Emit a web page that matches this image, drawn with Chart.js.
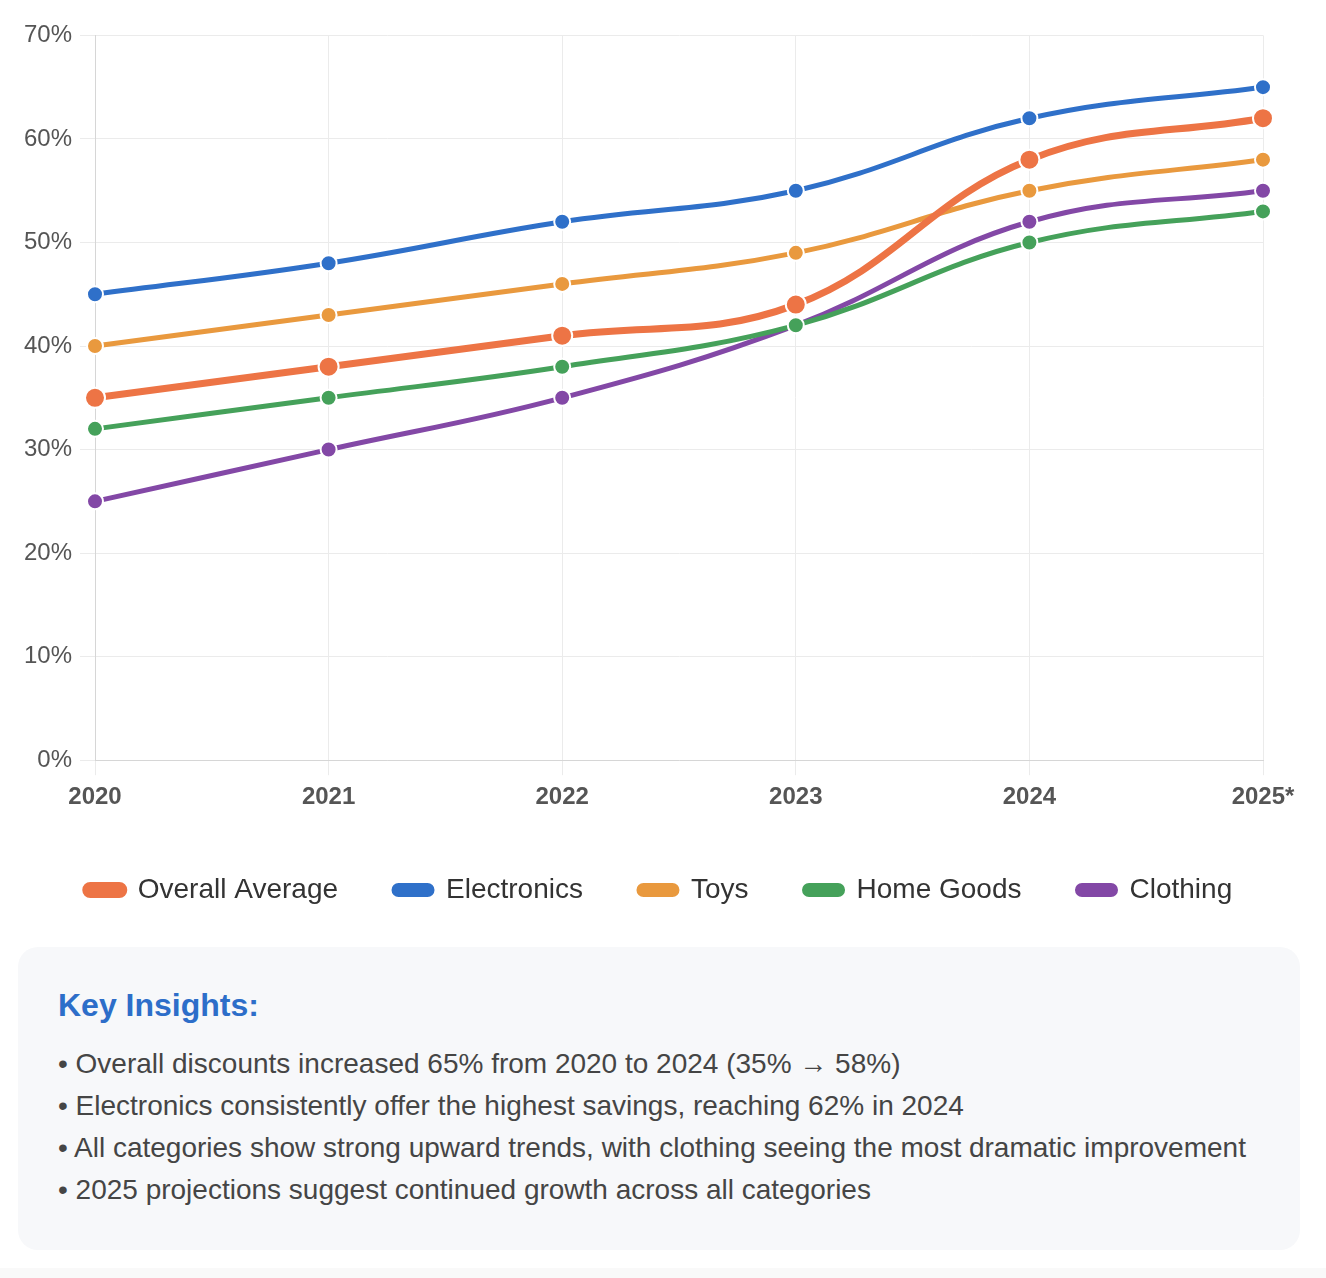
<!DOCTYPE html>
<html>
<head>
<meta charset="utf-8">
<script src="https://cdn.jsdelivr.net/npm/chart.js@4.4.1/dist/chart.umd.min.js"></script>
<style>
  html, body { margin: 0; padding: 0; }
  body { background: #f9f9f9; font-family: "Liberation Sans", Arial, Helvetica, sans-serif; }
  .card { background: #fff; width: 1326px; padding: 13px 0 18px 0; box-sizing: border-box; }
  .chart-wrap { position: relative; height: 901px; margin: 0 26px 0 18px; }
  .insights { margin: 33px 26px 0 18px; background: #f7f8fa; border-radius: 20px; padding: 39px 40px 39px 40px; }
  .insights h3 { margin: 0 0 19px 0; font-size: 32px; line-height: 38px; font-weight: bold; color: #2d6ec9; }
  .insights p { margin: 0; font-size: 28px; line-height: 42px; color: #454545; }
</style>
</head>
<body>
<div class="card">
  <div class="chart-wrap"><canvas id="discountChart"></canvas></div>
  <div class="insights">
    <h3>Key Insights:</h3>
    <p>• Overall discounts increased 65% from 2020 to 2024 (35% → 58%)</p>
    <p>• Electronics consistently offer the highest savings, reaching 62% in 2024</p>
    <p>• All categories show strong upward trends, with clothing seeing the most dramatic improvement</p>
    <p>• 2025 projections suggest continued growth across all categories</p>
  </div>
</div>

<script>
//======================================
// Data
//======================================

const years = ["2020", "2021", "2022", "2023", "2024", "2025*"];

const overallAverage = [35, 38, 41, 44, 58, 62];
const electronics    = [45, 48, 52, 55, 62, 65];
const toys           = [40, 43, 46, 49, 55, 58];
const homeGoods      = [32, 35, 38, 42, 50, 53];
const clothing       = [25, 30, 35, 42, 52, 55];

const yTicks = [0, 10, 20, 30, 40, 50, 60, 70];


//======================================
// Dataset helper
//======================================

function series(label, data, color, main){

    return {
        label: label,
        data: data,
        borderColor: color,
        backgroundColor: color,
        pointBackgroundColor: color,
        pointBorderColor: "#fff",
        pointBorderWidth: 2,
        pointRadius: main ? 10 : 8,
        pointHoverRadius: main ? 11 : 9,
        borderWidth: main ? 7 : 5,
        tension: 0.4,
        fill: false
    };

}


//======================================
// Chart
//======================================

const ctx = document.getElementById("discountChart");

new Chart(ctx, {

    type: "line",

    data: {

        labels: years,

        datasets: [
            series("Overall Average", overallAverage, "#ed7445", true),
            series("Electronics", electronics, "#2f70c9", false),
            series("Toys", toys, "#e9993e", false),
            series("Home Goods", homeGoods, "#45a15a", false),
            series("Clothing", clothing, "#8348a6", false)
        ]

    },

    options: {

        responsive: true,
        maintainAspectRatio: false,
        animation: false,

        layout: {
            padding: { top: 1, right: 0, left: 0 }
        },

        plugins: {

            legend: {
                position: "bottom",
                labels: {
                    color: "#333",
                    font: { size: 28, family: "'Liberation Sans', Arial, sans-serif" },
                    boxWidth: 38,
                    boxHeight: 9,
                    useBorderRadius: true,
                    borderRadius: 4.5,
                    padding: 56
                }
            },

            tooltip: { enabled: true }

        },

        scales: {

            x: {
                offset: false,
                afterFit: (scale) => { scale.paddingRight = 37; },
                grid: { color: "#ebebeb", tickLength: 15 },
                border: { color: "#d6d6d6" },
                ticks: {
                    color: "#555",
                    padding: 8,
                    font: { size: 24, weight: "bold", family: "'Liberation Sans', Arial, sans-serif" }
                }
            },

            y: {
                min: 0,
                max: 70,
                afterBuildTicks: (axis) => {
                    axis.ticks = yTicks.map(v => ({ value: v }));
                },
                afterFit: (scale) => { scale.width = 77; },
                grid: { color: "#ebebeb", tickLength: 15 },
                border: { color: "#d6d6d6" },
                ticks: {
                    color: "#555",
                    padding: 8,
                    font: { size: 24, family: "'Liberation Sans', Arial, sans-serif" },
                    callback: (v) => v + "%"
                }
            }

        }

    }

});
</script>
</body>
</html>
